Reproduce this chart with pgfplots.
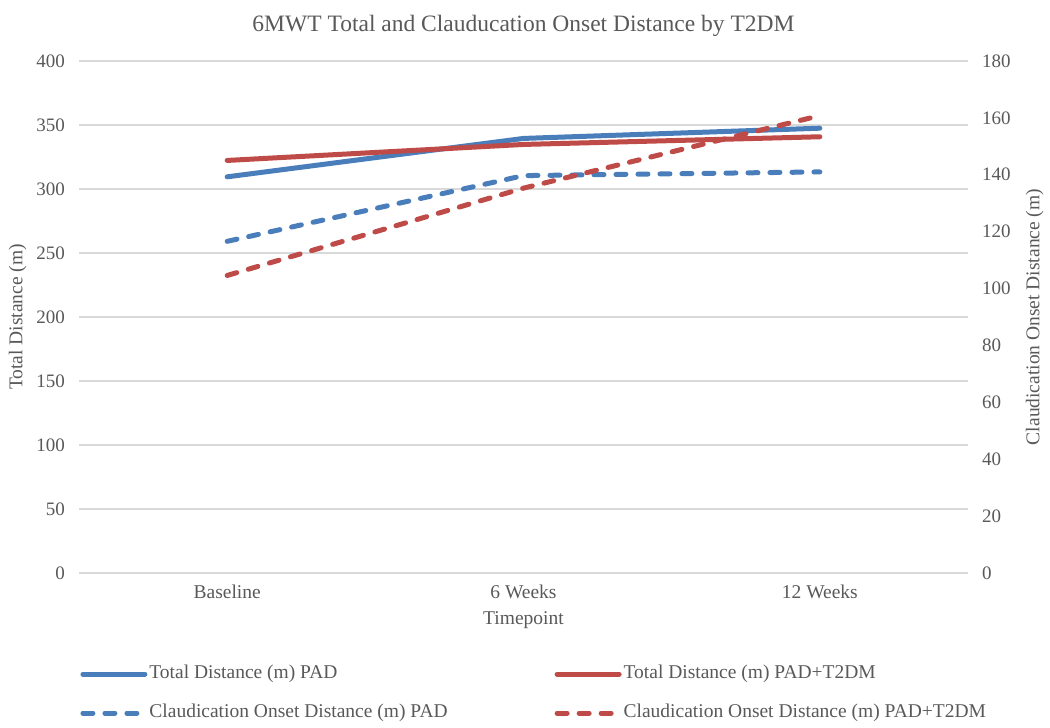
\documentclass[border=0pt]{standalone}
\usepackage{pgfplots}
\pgfplotsset{compat=1.18}
\usepackage{fontspec}
\setmainfont{Liberation Serif}
\definecolor{sblue}{HTML}{4A7EBB}
\definecolor{sred}{HTML}{BE4B48}
\definecolor{tgrey}{HTML}{595959}
\definecolor{ggrey}{HTML}{D9D9D9}
\begin{document}
\begin{tikzpicture}[x=1pt,y=1pt]
\useasboundingbox (0,0) rectangle (1050,728);
\pgfplotsset{
  common/.style={
    scale only axis, width=889pt, height=512pt,
    at={(79pt,155pt)}, anchor=south west,
    xmin=-0.5, xmax=2.5, xtick={0,1,2},
    axis line style={draw=none}, major tick style={draw=none},
    minor tick style={draw=none},
    /pgf/number format/assume math mode=true,
    tick label style={font=\fontsize{19}{22}\selectfont, text=tgrey},
    label style={font=\fontsize{19.5}{22}\selectfont, text=tgrey},
    clip=false,
  },
  solidl/.style={line width=5pt, line cap=round, line join=round},
  dashl/.style={line width=5pt, line cap=round, line join=round, dash pattern=on 10pt off 12pt},
}
\begin{axis}[common,
  ymin=0, ymax=400, ytick={0,50,...,400},
  ymajorgrids, grid style={ggrey, line width=1.5pt},
  xticklabels={Baseline,6 Weeks,12 Weeks},
  xticklabel style={anchor=base, inner sep=0pt, yshift=-26pt, font=\fontsize{19.5}{22}\selectfont},
  yticklabel style={anchor=east, inner sep=0pt, xshift=-14pt},
  xlabel={Timepoint},
  xlabel style={at={(axis description cs:0.5,-0.092)}, anchor=center},
  ylabel={Total Distance (m)},
  ylabel style={at={(axis description cs:-0.069,0.5)}, rotate=0, anchor=center},
  title={6MWT Total and Clauducation Onset Distance by T2DM},
  title style={at={(axis description cs:0.5,1.056)}, anchor=center, font=\fontsize{23.5}{27}\selectfont, text=tgrey},
]
\addplot[sblue, solidl] coordinates {(0,309.5) (1,339.5) (2,347.5)};
\addplot[sred, solidl] coordinates {(0,322.3) (1,334.8) (2,340.8)};
\end{axis}
\begin{axis}[common,
  ymin=0, ymax=180, ytick={0,20,...,180},
  xticklabels={},
  yticklabel pos=right,
  yticklabel style={anchor=west, inner sep=0pt, xshift=14pt},
  ylabel={Claudication Onset Distance (m)},
  ylabel style={at={(axis description cs:1.075,0.5)}, rotate=0, anchor=center},
  legend columns=2,
  legend style={at={(axis description cs:-0.002,-0.1776)}, anchor=north west,
    draw=none, fill=none, font=\fontsize{19.5}{22}\selectfont, text=tgrey,
    nodes={text height=12pt, text depth=4pt, inner ysep=0pt, inner xsep=2pt},
    row sep=23pt,
    /tikz/every even column/.append style={column sep=105pt}},
  legend cell align=left,
  legend image code/.code={\draw[#1] (0pt,0pt) -- (62pt,0pt);},
]
\addlegendimage{sblue, solidl}
\addlegendentry{Total Distance (m) PAD}
\addlegendimage{sred, solidl}
\addlegendentry{Total Distance (m) PAD+T2DM}
\addplot[sblue, dashl] coordinates {(0,116.6) (1,139.7) (2,141.0)};
\addlegendentry{Claudication Onset Distance (m) PAD}
\addplot[sred, dashl] coordinates {(0,104.6) (1,135.3) (2,160.8)};
\addlegendentry{Claudication Onset Distance (m) PAD+T2DM}
\end{axis}
\end{tikzpicture}
\end{document}
